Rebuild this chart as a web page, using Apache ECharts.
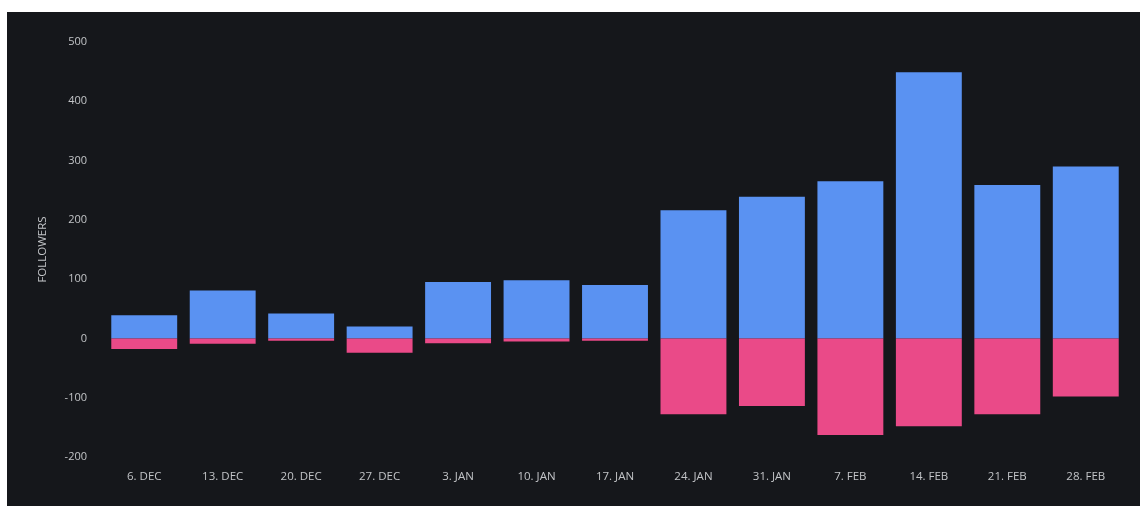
<!DOCTYPE html>
<html>
<head>
<meta charset="utf-8">
<script src="https://cdn.jsdelivr.net/npm/echarts@6/dist/echarts.min.js"></script>
<style>
  html, body { margin: 0; padding: 0; background: #ffffff; }
  #chart { position: absolute; left: 7px; top: 12px; width: 1133px; height: 494px; background: #15171b; }
</style>
</head>
<body>
<div id="chart"></div>
<script>
// Weekly follower changes
const weeks = ['6. DEC', '13. DEC', '20. DEC', '27. DEC', '3. JAN', '10. JAN', '17. JAN',
               '24. JAN', '31. JAN', '7. FEB', '14. FEB', '21. FEB', '28. FEB'];
const gained = [39, 81, 42, 20, 95, 98, 90, 216, 239, 265, 449, 259, 290];
const lost = [-18, -9, -4, -24, -8, -5, -4, -128, -114, -163, -148, -128, -98];

const chart = echarts.init(document.getElementById('chart'));
const labelColor = '#c2c4c7';
const fontFamily = '"Open Sans", "Noto Sans", sans-serif';

chart.setOption({
  backgroundColor: '#15171b',
  animation: false,
  grid: { left: 98, right: 15, top: 30, bottom: 49 },
  xAxis: {
    type: 'category',
    data: weeks,
    axisLine: { show: false },
    axisTick: { show: false },
    axisLabel: { color: labelColor, fontSize: 11.5, fontFamily: fontFamily, margin: 14 }
  },
  yAxis: {
    type: 'value',
    min: -200,
    max: 500,
    interval: 100,
    name: 'FOLLOWERS',
    nameLocation: 'middle',
    nameGap: 56,
    nameRotate: 90,
    nameTextStyle: { color: labelColor, fontSize: 11.5, fontFamily: fontFamily },
    splitLine: { show: false },
    axisLine: { show: false },
    axisTick: { show: false },
    axisLabel: { color: labelColor, fontSize: 11, fontFamily: fontFamily, margin: 18 }
  },
  series: [
    {
      name: 'Gained',
      type: 'bar',
      stack: 'followers',
      data: gained,
      barCategoryGap: '16%',
      itemStyle: { color: '#5a92f2' }
    },
    {
      name: 'Lost',
      type: 'bar',
      stack: 'followers',
      data: lost,
      barCategoryGap: '16%',
      itemStyle: { color: '#ea4a88' }
    }
  ]
});
</script>
</body>
</html>
